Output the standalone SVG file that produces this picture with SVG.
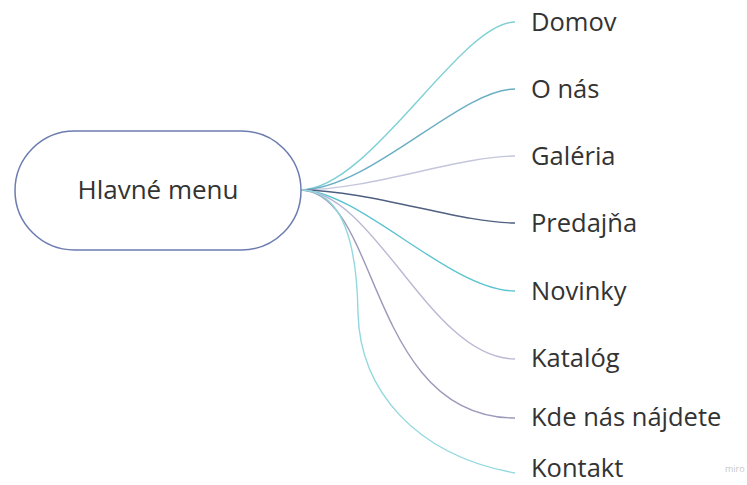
<svg xmlns="http://www.w3.org/2000/svg" width="747" height="485" viewBox="0 0 747 485">
<style>
.lbl{font-family:"Open Sans","Noto Sans",sans-serif;font-size:25.5px;fill:#333333}
.c{fill:none;stroke-width:1.4}
</style>
<rect width="747" height="485" fill="#ffffff"/>
<g id="connectors">
<path class="c" stroke="#7fd0d6" d="M300,190 C370,190 460,22 515,22"/>
<path class="c" stroke="#6aaec4" d="M300,190 C370,190 460,89 515,89"/>
<path class="c" stroke="#c4c6dc" d="M300,190 C370,190 460,156 515,156"/>
<path class="c" stroke="#4e5f80" d="M300,190 C370,190 460,223 515,223"/>
<path class="c" stroke="#5cc4d0" d="M300,190 C360,190 450,291 515,291"/>
<path class="c" stroke="#bbb8d4" d="M300,190 C375,190 430,359 515,359"/>
<path class="c" stroke="#9c9aba" d="M300,190 C380,190 368,418 515,418"/>
<path class="c" stroke="#92d8de" d="M300,190 C345,190 357,250 358,313 C360,390 415,455 515,473"/>
</g>
<g id="main">
<rect x="15" y="131" width="286" height="119" rx="59.5" fill="#ffffff" stroke="#6c7cb0" stroke-width="1.5"/>
<text x="158" y="199" text-anchor="middle" font-family="Open Sans, Noto Sans, sans-serif" font-size="26" fill="#333333">Hlavné menu</text>
</g>
<g id="n1"><text class="lbl" x="531" y="31">Domov</text></g>
<g id="n2"><text class="lbl" x="531" y="98">O nás</text></g>
<g id="n3"><text class="lbl" x="531" y="165">Galéria</text></g>
<g id="n4"><text class="lbl" x="531" y="232">Predajňa</text></g>
<g id="n5"><text class="lbl" x="531" y="300">Novinky</text></g>
<g id="n6"><text class="lbl" x="531" y="367">Katalóg</text></g>
<g id="n7"><text class="lbl" x="531" y="426">Kde nás nájdete</text></g>
<g id="n8"><text class="lbl" x="531" y="477">Kontakt</text></g>
<text x="725" y="472" font-family="Open Sans, sans-serif" font-size="9" fill="#c8c8c8">miro</text>
</svg>
